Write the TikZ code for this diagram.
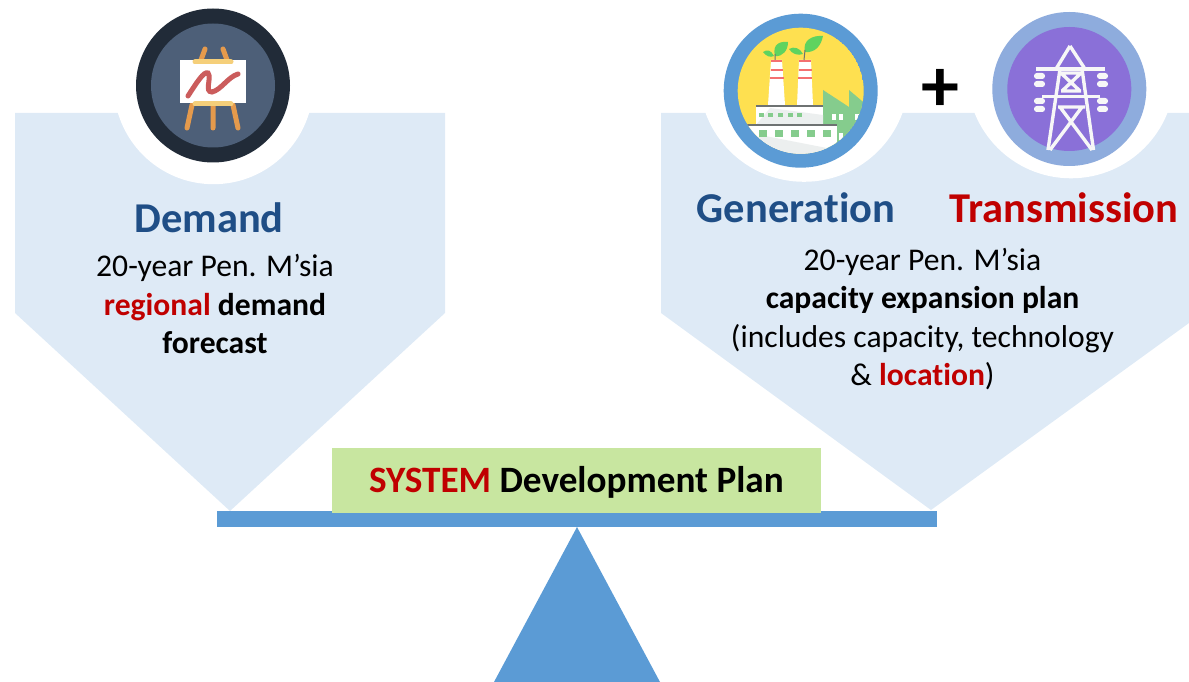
\documentclass[tikz,border=0pt]{standalone}
\usepackage{fontspec}
\setmainfont[Ligatures=NoCommon]{Carlito}
\definecolor{panelblue}{HTML}{DEEAF6}
\definecolor{beamblue}{HTML}{5B9BD5}
\definecolor{headblue}{HTML}{1F4E86}
\definecolor{darkred}{HTML}{C00000}
\definecolor{planbox}{HTML}{C8E6A0}
\definecolor{easelring}{HTML}{212B38}
\definecolor{easeldisc}{HTML}{4D5F78}
\definecolor{wood}{HTML}{E59A4C}
\definecolor{woodbar}{HTML}{F5CF7A}
\definecolor{scrawl}{HTML}{CB5C5C}
\definecolor{sunny}{HTML}{FEE050}
\definecolor{leaf}{HTML}{5FD35F}
\definecolor{works}{HTML}{85CC8D}
\definecolor{stripe}{HTML}{F47070}
\definecolor{wallgrey}{HTML}{ECEFEF}
\definecolor{roof}{HTML}{6E7272}
\definecolor{pylonring}{HTML}{8EACDD}
\definecolor{pylondisc}{HTML}{8A70D8}
\tikzset{
  headline/.style={font=\fontsize{42.5}{42.5}\selectfont\bfseries,inner sep=0pt},
  bodyline/.style={font=\fontsize{31.6}{38.4}\selectfont,align=center,inner sep=0pt},
  woodline/.style={wood,line width=5pt,line cap=round},
  barline/.style={woodbar,line width=5pt,line cap=round},
  stripeline/.style={stripe,line width=1.5pt},
  pylonline/.style={draw=white!97!black,line width=3.4pt},
  insulator/.style={fill=white!97!black,rounded corners=2.8pt},
}
\begin{document}
\begin{tikzpicture}[x=1pt,y=-1pt]
  \useasboundingbox (0,0) rectangle (1189,682);
  % panels
  \fill[panelblue] (15,113) -- (445,113) -- (445,313) -- (230,511) -- (15,313) -- cycle;
  \fill[panelblue] (661,113) -- (1189,113) -- (1189,323) -- (931,510) -- (661,313) -- cycle;
  \fill[white] (213.5,84.5) circle (99.7);
  \fill[white] (804,77) circle (104.8);
  \fill[white] (1071,74.5) circle (103.8);
  % beam and pivot
  \fill[beamblue] (217,511) rectangle (937,527);
  \fill[beamblue] (577,527) -- (660,682) -- (494,682) -- cycle;
  \node (plan) [fill=planbox,minimum width=489pt,minimum height=65pt,inner sep=0pt,
    font=\fontsize{37.2}{37.2}\selectfont\bfseries] at (576.5,480.5)
    {\raisebox{-11.5pt}[0pt][0pt]{\textcolor{darkred}{SYSTEM} Development Plan}};
  % easel
  \fill[easelring] (213,85.5) circle (77);
  \fill[easeldisc] (213,85.5) circle (62);
  \draw[woodline] (205,49) -- (201,60) (223,49) -- (227,60);
  \draw[woodline] (192,105) -- (187,128) (213,105) -- (213,128) (233,105) -- (238,128);
  \fill[white] (180,60) rectangle (245.5,103);
  \draw[barline] (195,62) -- (231,62) (195,104) -- (231,104);
  \draw[scrawl,line width=5pt,line cap=round] (188,96) .. controls (197,82) and (204,71) .. (208,73)
    .. controls (212,78) and (204,92) .. (212,92) .. controls (221,90) and (228,77) .. (238,74);
  % generation
  \fill[beamblue] (800.7,90.7) circle (77);
  \begin{scope}
    \clip (800.7,90.7) circle (63);
    \fill[sunny] (800.7,90.7) circle (63);
    \fill[works] (823,90) -- (849,107) -- (849,90) -- (875,112) -- (875,160) -- (823,160) -- cycle;
    \fill[white] (771,60) -- (782,60) -- (785,105) -- (768,105) -- cycle;
    \fill[white] (799,60) -- (811,60) -- (813,105) -- (797,105) -- cycle;
    \fill[white] (756,105) rectangle (823,125);
    \fill[wallgrey] (770,108) -- (823,115) -- (823,125) -- (756,125) -- cycle;
    \fill[white] (745,125) rectangle (837,160);
    \fill[wallgrey] (760,135) -- (837,150) -- (837,160) -- (745,160) -- cycle;
    \draw[roof,line width=2pt] (756,106) -- (823,106) (745,125.5) -- (837,125.5);
    \foreach \x in {759,768,778,788,797} { \fill[works] (\x,113) rectangle ++(5,4); }
    \foreach \x in {759,775,791,807,823} { \fill[works] (\x,130) rectangle ++(8,7); }
    \foreach \x in {832,839,855,862} { \fill[white] (\x,114) rectangle ++(4,6); }
    \fill[white] (839,133) rectangle ++(4,7);
  \end{scope}
  \draw[stripeline] (771,61) -- (782,61) (770.5,70) -- (783,70) (770,78) -- (783.5,78);
  \draw[stripeline] (799,61) -- (811,61) (798.5,70) -- (811.5,70) (798,78) -- (812,78);
  \fill[leaf] (775,56) .. controls (772,44) and (780,41) .. (788,42) .. controls (788,50) and (783,57) .. (775,56);
  \fill[leaf] (774,56) .. controls (771,50) and (767,49) .. (763,52) .. controls (766,56) and (770,58) .. (774,56);
  \fill[leaf] (805,52) .. controls (802,40) and (813,35) .. (823,36) .. controls (821,46) and (815,53) .. (805,52);
  \fill[leaf] (803,54) .. controls (800,48) and (794,46) .. (789,49) .. controls (792,54) and (798,56) .. (803,54);
  \draw[roof,line width=1pt] (775,60) -- (775,54) (804,60) -- (805,50);
  % transmission
  \fill[pylonring] (1069.3,89) circle (77);
  \fill[pylondisc] (1069.3,89) circle (62);
  \draw[pylonline] (1036,69) -- (1105,69) (1042,96.5) -- (1100,96.5);
  \draw[pylonline] (1070,46) -- (1056,69) (1070,46) -- (1085,69);
  \draw[pylonline] (1060,69) -- (1048,150) (1082,69) -- (1093.5,150);
  \draw[pylonline] (1062,74) -- (1080,91) (1080,74) -- (1062,91) (1061,73) -- (1081,73) (1061,91) -- (1081,91);
  \draw[pylonline] (1058,107) -- (1085,107) (1060,107) -- (1092,150) (1082,107) -- (1050,150);
  \foreach \y in {76,84,101,109} {
    \fill[insulator] (1034,\y-3) rectangle (1045,\y+3);
    \fill[insulator] (1097,\y-3) rectangle (1108,\y+3);
  }
  \node (plus) [font=\fontsize{76}{76}\selectfont\bfseries,inner sep=0pt] at (940,90) {+};
  % texts
  \node (demand) [headline,text=headblue] at (209,218) {Demand};
  \node (demandtxt) [bodyline] at (215,304) {20-year Pen. M’sia\\
    \textbf{\textcolor{darkred}{regional} demand}\\ \textbf{forecast}};
  \node (generation) [headline,text=headblue] at (796,208) {Generation};
  \node (transmission) [headline,text=darkred] at (1064,208) {Transmission};
  \node (capacitytxt) [bodyline] at (922.5,319) {20-year Pen. M’sia\\ \textbf{capacity expansion plan}\\
    (includes capacity, technology\\ \& \textbf{\textcolor{darkred}{location}})};
\end{tikzpicture}
\end{document}
